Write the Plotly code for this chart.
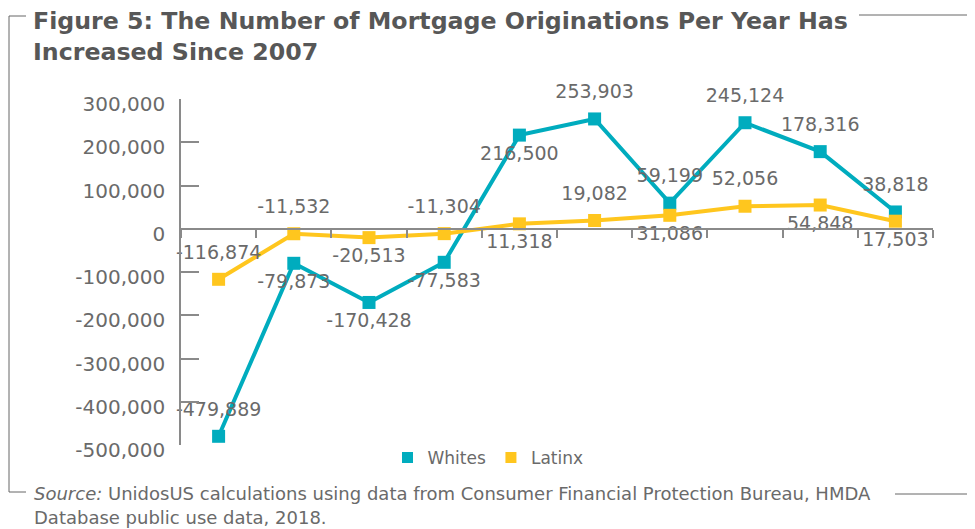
import plotly.graph_objects as go

# ---- data ----
years = ["2008", "2009", "2010", "2011", "2012", "2013", "2014", "2015", "2016", "2017"]
whites = [-479889, -79873, -170428, -77583, 216500, 253903, 59199, 245124, 178316, 38818]
latinx = [-116874, -11532, -20513, -11304, 11318, 19082, 31086, 52056, 54848, 17503]
white_label_pos = ["top center", "bottom center", "bottom center", "bottom center", "bottom center",
                   "top center", "top center", "top center", "top center", "top center"]
latinx_label_pos = ["top center", "top center", "bottom center", "top center", "bottom center",
                    "top center", "bottom center", "top center", "bottom center", "bottom center"]
y_tick_vals = [300000, 200000, 100000, 0, -100000, -200000, -300000, -400000, -500000]
y_tick_text = [f"{v:,}" for v in y_tick_vals]

TEAL = "#00ACBE"
GOLD = "#FFC61E"
GRAY_TXT = "#6a6a6a"
AXIS = "#8a8a8a"
FONT = "DejaVu Sans"

OFF = 8  # page body margin
W, H = 975 - OFF, 529 - OFF
L, R, T, B = 181 - OFF, 42, 99 - OFF, 84
PW, PH = W - L - R, H - T - B


def px(x):
    return (x - OFF - L) / PW


def py(y):
    return (H - B - (y - OFF)) / PH


def label_sizes(pos):
    return [24 if p.startswith("top") else 15 for p in pos]


fig = go.Figure()
for name, vals, pos, col in [("Whites", whites, white_label_pos, TEAL),
                             ("Latinx", latinx, latinx_label_pos, GOLD)]:
    fig.add_trace(go.Scatter(
        x=years, y=vals, mode="lines+markers", name=name,
        line=dict(color=col, width=4), marker=dict(symbol="square", size=13, color=col),
        showlegend=False, cliponaxis=False))
for name, vals, pos, col in [("Whites", whites, white_label_pos, TEAL),
                             ("Latinx", latinx, latinx_label_pos, GOLD)]:
    fig.add_trace(go.Scatter(
        x=years, y=vals, mode="markers+text", name=name + " labels",
        marker=dict(symbol="square", size=label_sizes(pos), color=col, opacity=0),
        text=[f"{v:,}" for v in vals], textposition=pos,
        textfont=dict(family=FONT, size=19, color=GRAY_TXT),
        showlegend=False, cliponaxis=False, hoverinfo="skip"))
# legend entries (square only)
fig.add_trace(go.Scatter(x=[None], y=[None], mode="markers", name="Whites",
                         marker=dict(symbol="square", size=11, color=TEAL)))
fig.add_trace(go.Scatter(x=[None], y=[None], mode="markers", name="Latinx",
                         marker=dict(symbol="square", size=11, color=GOLD)))

fig.update_layout(
    width=W, height=H, margin=dict(l=L, r=R, t=T, b=B),
    paper_bgcolor="white", plot_bgcolor="white",
    font=dict(family=FONT, color=GRAY_TXT),
    showlegend=True,
    legend=dict(orientation="h", x=px(488), xanchor="center", y=py(458), yanchor="middle",
                font=dict(family=FONT, size=17, color=GRAY_TXT), itemwidth=30,
                bgcolor="rgba(0,0,0,0)"),
    xaxis=dict(type="category", range=[-0.5, 9.5], anchor="free", position=0.625,
               showline=True, linecolor=AXIS, linewidth=1.5, tickson="boundaries",
               ticks="outside", ticklen=8, tickcolor=AXIS, tickwidth=1.5,
               showticklabels=False, showgrid=False, zeroline=False, fixedrange=True),
    yaxis=dict(range=[-500000, 300000], showline=True, linecolor=AXIS, linewidth=1.5,
               ticks="inside", ticklen=18, tickcolor=AXIS, tickwidth=1.5,
               tickvals=y_tick_vals, ticktext=y_tick_text, ticklabelstandoff=10,
               ticklabelshift=5,
               tickfont=dict(family=FONT, size=20, color=GRAY_TXT),
               showgrid=False, zeroline=False, fixedrange=True),
)

# title
fig.add_annotation(text="Figure 5: The Number of Mortgage Originations Per Year Has",
                   xref="paper", yref="paper", x=px(32), y=py(21), xanchor="left", yanchor="middle",
                   borderpad=0,
                   showarrow=False, font=dict(family=FONT, size=23.7, color="#575757", weight="bold"))
fig.add_annotation(text="Increased Since 2007",
                   xref="paper", yref="paper", x=px(32), y=py(52), xanchor="left", yanchor="middle",
                   borderpad=0,
                   showarrow=False, font=dict(family=FONT, size=23.7, color="#575757", weight="bold"))
# source
fig.add_annotation(text="<i>Source:</i> UnidosUS calculations using data from Consumer Financial Protection Bureau, HMDA",
                   xref="paper", yref="paper", x=px(32), y=py(493), xanchor="left", yanchor="middle",
                   showarrow=False, font=dict(family=FONT, size=18, color=GRAY_TXT))
fig.add_annotation(text="Database public use data, 2018.",
                   xref="paper", yref="paper", x=px(32), y=py(517), xanchor="left", yanchor="middle",
                   showarrow=False, font=dict(family=FONT, size=18, color=GRAY_TXT))

# frame lines
frame = dict(color="#666666", width=1)
for x0, y0, x1, y1 in [(9, 16, 26, 16), (9, 16, 9, 492), (9, 492, 26, 492),
                       (859, 15, 975, 15), (895, 494, 975, 494)]:
    fig.add_shape(type="line", xref="paper", yref="paper",
                  x0=px(x0), y0=py(y0), x1=px(x1), y1=py(y1), line=frame)

fig.write_html("out.html")
